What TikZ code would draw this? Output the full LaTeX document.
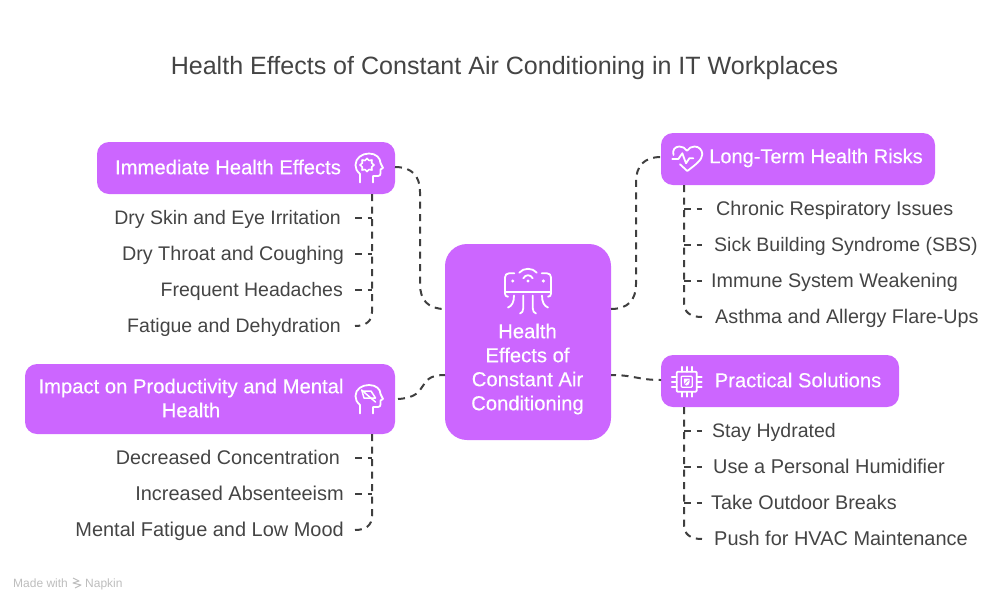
\documentclass[tikz,border=0pt]{standalone}
\usepackage{fontspec}
\setmainfont{Liberation Sans}
\newfontfamily\medfont[FakeBold=0.3]{Liberation Sans}
\definecolor{boxc}{HTML}{CC66FF}
\definecolor{inkc}{HTML}{444444}
\definecolor{conc}{HTML}{3F3F3F}
\definecolor{markc}{HTML}{BDBDBD}
\tikzset{
  box/.style={fill=boxc,draw=none,rounded corners=12pt,inner sep=0pt},
  boxtext/.style={text=white,font=\medfont\fontsize{20.25}{24}\selectfont,align=center,inner sep=0pt},
  lab/.style={text=inkc,font=\fontsize{19.5}{22}\selectfont,inner ysep=0pt,inner xsep=13pt,text height=15pt,text depth=2pt},
  labw/.style={lab,font=\fontsize{19.75}{22}\selectfont},
  labx/.style={lab,font=\fontsize{19.95}{22}\selectfont},
  conn/.style={draw=conc,line width=2pt,dash pattern=on 7pt off 5.5pt},
  icon/.style={draw=white,line width=1.8pt,line cap=round,line join=round,fill=none},
  markt/.style={text=markc,font=\fontsize{12}{13}\selectfont,inner sep=0pt}
}
\begin{document}
\begin{tikzpicture}[x=1pt,y=-1pt]
\useasboundingbox (0,0) rectangle (1008,600);
\node[text=inkc,font=\fontsize{25.05}{30}\selectfont,inner sep=0pt] (title) at (504.5,68) {Health Effects of Constant Air Conditioning in IT Workplaces};

% boxes
\node[box,minimum width=298pt,minimum height=52pt] (imm) at (246,168) {};
\node[box,minimum width=370pt,minimum height=70pt] (imp) at (210,399) {};
\node[box,rounded corners=22pt,minimum width=166pt,minimum height=196pt] (cen) at (528,342) {};
\node[box,minimum width=274pt,minimum height=52pt] (lon) at (798,159) {};
\node[box,minimum width=238pt,minimum height=52pt] (pra) at (780,381) {};

\node[boxtext] (immt) at (228,167) {Immediate Health Effects};
\node[boxtext] (impt) at (191,398) {Impact on Productivity and Mental\\Health};
\node[boxtext] (cent) at (527.5,369) {Health\\Effects of\\Constant Air\\Conditioning};
\node[boxtext,font=\medfont\fontsize{20}{24}\selectfont] (lont) at (816,158) {Long-Term Health Risks};
\node[boxtext] (prat) at (798,380) {Practical Solutions};

% labels
\node[lab,anchor=east] (a1) at (354,218) {Dry Skin and Eye Irritation};
\node[labw,anchor=east] (a2) at (357,254) {Dry Throat and Coughing};
\node[lab,anchor=east] (a3) at (356,290) {Frequent Headaches};
\node[lab,anchor=east] (a4) at (354,326) {Fatigue and Dehydration};
\node[labw,anchor=east] (b1) at (353,458) {Decreased Concentration};
\node[labx,anchor=east] (b2) at (357,494) {Increased Absenteeism};
\node[labx,anchor=east] (b3) at (357,530) {Mental Fatigue and Low Mood};
\node[labw,anchor=west] (c1) at (703,209) {Chronic Respiratory Issues};
\node[lab,anchor=west] (c2) at (701,245) {Sick Building Syndrome (SBS)};
\node[labw,anchor=west] (c3) at (698,281) {Immune System Weakening};
\node[labw,anchor=west] (c4) at (702,317) {Asthma and Allergy Flare-Ups};
\node[lab,anchor=west] (d1) at (699,431) {Stay Hydrated};
\node[labx,anchor=west] (d2) at (700,467) {Use a Personal Humidifier};
\node[labw,anchor=west] (d3) at (698,503) {Take Outdoor Breaks};
\node[labx,anchor=west] (d4) at (701,539) {Push for HVAC Maintenance};

% trunk junctions and stub ends
\coordinate (ja1) at (372,218); \coordinate (ja2) at (372,254); \coordinate (ja3) at (372,290);
\coordinate (jb1) at (372,458); \coordinate (jb2) at (372,494);
\coordinate (jc1) at (684,209); \coordinate (jc2) at (684,245); \coordinate (jc3) at (684,281);
\coordinate (jd1) at (684,431); \coordinate (jd2) at (684,467); \coordinate (jd3) at (684,503);
\coordinate (sa1) at (355,218); \coordinate (sa2) at (355,254); \coordinate (sa3) at (355,290); \coordinate (sa4) at (355,326);
\coordinate (sb1) at (355,458); \coordinate (sb2) at (355,494); \coordinate (sb3) at (355,530);
\coordinate (sc1) at (702,209); \coordinate (sc2) at (702,245); \coordinate (sc3) at (702,281); \coordinate (sc4) at (702,317);
\coordinate (sd1) at (702,431); \coordinate (sd2) at (702,467); \coordinate (sd3) at (702,503); \coordinate (sd4) at (702,539);

% branches
\draw[conn] (imm.south -| ja1) -- (372,312) .. controls (372,321) and (366,326) .. (sa4);
\draw[conn] (sa1) -- (ja1); \draw[conn] (sa2) -- (ja2); \draw[conn] (sa3) -- (ja3);
\draw[conn] (imp.south -| jb1) -- (372,516) .. controls (372,525) and (366,530) .. (sb3);
\draw[conn] (sb1) -- (jb1); \draw[conn] (sb2) -- (jb2);
\draw[conn] (lon.south -| jc1) -- (684,303) .. controls (684,312) and (690,317) .. (sc4);
\draw[conn] (jc1) -- (sc1); \draw[conn] (jc2) -- (sc2); \draw[conn] (jc3) -- (sc3);
\draw[conn] (pra.south -| jd1) -- (684,525) .. controls (684,534) and (690,539) .. (sd4);
\draw[conn] (jd1) -- (sd1); \draw[conn] (jd2) -- (sd2); \draw[conn] (jd3) -- (sd3);

% centre links
\coordinate (cl1) at (445,309); \coordinate (cl2) at (445,375);
\coordinate (cr1) at (611,309); \coordinate (cr2) at (611,375);
\coordinate (i1) at (395,167); \coordinate (i2) at (398,399);
\coordinate (l1) at (661,157); \coordinate (p1) at (661,380);
\draw[conn] (i1) .. controls (412,167) and (420,176) .. (420,192) -- (420,284) .. controls (420,300) and (428,309) .. (cl1);
\draw[conn] (i2) .. controls (432,397) and (414,375) .. (cl2);
\draw[conn] (cr1) .. controls (628,309) and (636,300) .. (636,284) -- (636,182) .. controls (636,166) and (644,157) .. (l1);
\draw[conn,dash phase=2pt] (cr2) .. controls (634,375) and (638,380) .. (p1);

% icon: head with star
\draw[icon] (360,182.5) -- (360,174) .. controls (356.5,171) and (355.5,168) .. (355.5,165) .. controls (355.5,158) and (362,153.5) .. (369,153.5) .. controls (376,153.5) and (380.5,158) .. (380.5,163) -- (383,168) -- (380.5,169.5) -- (380.5,173.5) .. controls (380.5,175) and (379.5,176) .. (378,176) -- (373,176) -- (373,182.5);
\draw[icon,line width=1.6pt] (367,158.4) -- (369,160.5) -- (372,160) -- (371.6,163) -- (374,165) -- (371.6,167) -- (372,170) -- (369,169.5) -- (367,171.6) -- (365,169.5) -- (362,170) -- (362.4,167) -- (360,165) -- (362.4,163) -- (362,160) -- (365,160.5) -- cycle;

% icon: head with battery
\draw[icon] (360,413.5) -- (360,405) .. controls (356.5,402) and (355.5,399) .. (355.5,396) .. controls (355.5,389) and (362,385) .. (369,385) .. controls (376,385) and (380.5,389) .. (380.5,394) -- (383,399) -- (380.5,400.5) -- (380.5,404.5) .. controls (380.5,406) and (379.5,407) .. (378,407) -- (373,407) -- (373,413.5);
\draw[icon,line width=1.5pt] (362,391) -- (371,391) -- (375.5,398) -- (364,398) -- cycle;
\draw[icon,line width=1.5pt] (361.5,390) -- (375.5,402);

% icon: air conditioner
\draw[icon] (514.3,273.3) -- (509,273.3) .. controls (506.5,273.3) and (505,275) .. (505,277.5) -- (505,293.5) .. controls (505,295.5) and (506,296.7) .. (508,296.7);
\draw[icon] (541.7,273.3) -- (547,273.3) .. controls (549.5,273.3) and (551,275) .. (551,277.5) -- (551,293.5) .. controls (551,295.5) and (550,296.7) .. (548,296.7);
\draw[icon] (505,291.7) -- (551,291.7);
\draw[icon] (519.3,272.7) .. controls (523,267.5) and (533,267.5) .. (536.7,272.7);
\draw[icon] (523.3,278.3) .. controls (525.5,274.2) and (530.5,274.2) .. (532.7,278.3);
\fill[white] (528,281) circle (1.7pt) (512.7,281) circle (1.7pt) (543.3,281) circle (1.7pt);
\draw[icon] (514,295.5) .. controls (514,302) and (512,306) .. (508,307.5);
\draw[icon] (523.3,295.5) -- (523.3,308) .. controls (523.3,311) and (522,313) .. (520,313.5);
\draw[icon] (532.7,295.5) -- (532.7,308) .. controls (532.7,311) and (534,313) .. (536,313.5);
\draw[icon] (542,295.5) .. controls (542,302) and (544,306) .. (548,307.5);

% icon: heart
\draw[icon] (673.5,155) .. controls (672,150) and (675,146.5) .. (679.5,146.5) .. controls (682.5,146.5) and (685,148) .. (687,150.7) .. controls (689,148) and (691.5,146.5) .. (694.5,146.5) .. controls (699,146.5) and (702.3,150) .. (702.3,154.3) .. controls (702.3,160) and (695,165) .. (687.3,171) -- (680,164.3);
\draw[icon] (672.3,159) -- (678.3,159) -- (682.3,153.3) -- (686,163.3) -- (689.3,158.3) -- (693.3,158.3);

% icon: chip
\draw[icon,rounded corners=1pt] (676.7,371.7) rectangle (696.7,391.7);
\draw[icon,line width=1.4pt,rounded corners=1pt] (681.2,376.2) rectangle (692.2,387.2);
\fill[white] (683.8,378.6) -- (689.6,378.6) -- (689.6,382) .. controls (689.6,384) and (688,385.2) .. (686.7,385.6) .. controls (685.4,385.2) and (683.8,384) .. (683.8,382) -- cycle;
\draw[boxc,line width=0.8pt] (685,383.6) -- (688.4,380.2);
\foreach \p in {681.7,686.7,691.7}{
  \draw[icon,line width=1.6pt] (\p,366.7) -- (\p,371.7);
  \draw[icon,line width=1.6pt] (\p,391.7) -- (\p,396.7);
}
\foreach \p in {376.7,381.7,386.7}{
  \draw[icon,line width=1.6pt] (671.7,\p) -- (676.7,\p);
  \draw[icon,line width=1.6pt] (696.7,\p) -- (701.7,\p);
}

% footer
\node[markt,anchor=base west] (made) at (13,587) {Made with};
\node[markt,anchor=base west] (nap) at (85,587) {Napkin};
\draw[markc,line width=1pt,line join=round] (73,578) -- (79,581) -- (73,583) -- (81,585) -- (75,588);
\end{tikzpicture}
\end{document}
